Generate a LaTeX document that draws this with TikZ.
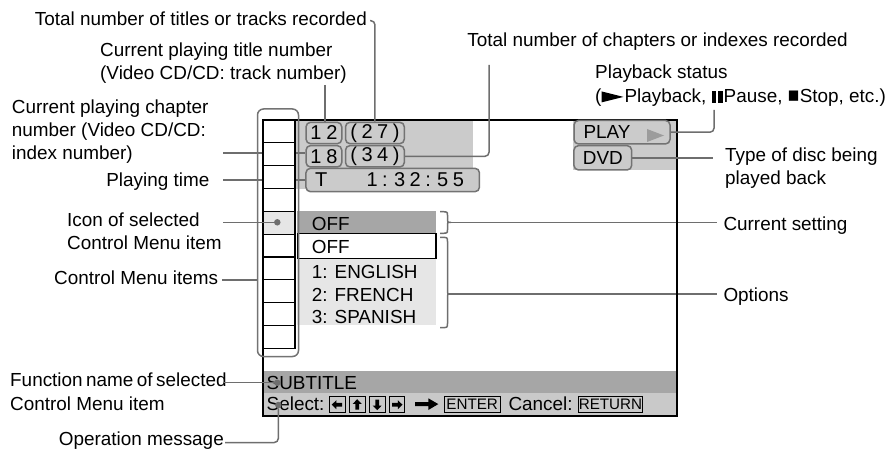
\documentclass[tikz,border=0pt]{standalone}
\usepackage{graphicx}
\usepackage{fontspec}
\setmainfont{Liberation Sans}
\pgfdeclarelayer{bgfill}
\pgfdeclarelayer{under}
\pgfsetlayers{bgfill,under,main}
\definecolor{hdrgray}{HTML}{CBCBCB}
\definecolor{bargray}{HTML}{A6A6A6}
\definecolor{lightg}{HTML}{E6E6E6}
\definecolor{selgray}{HTML}{C9C9C9}
\definecolor{conngray}{HTML}{6E6E6E}
\definecolor{boxedge}{HTML}{737373}
\definecolor{trigray}{HTML}{9C9C9C}
\newcommand\pausebars{\rule{4.5pt}{12pt}\hspace{2pt}\rule{4.5pt}{12pt}\hspace{1pt}}
\newcommand\playptr{\tikz[baseline=0pt,x=1pt,y=1pt]\fill (0,0.3) -- (22,5.8) -- (0,11.3) -- cycle;\hspace{1pt}}
\newcommand\stopsq{\resizebox{11.5pt}{11.5pt}{■}\hspace{0.5pt}}
\begin{document}
\begin{tikzpicture}[x=1pt,y=-1pt,
  lbl/.style={inner sep=0pt, font=\fontsize{18.9}{23}\selectfont},
  conn/.style={draw=conngray, line width=1.5pt, rounded corners=4pt},
  hbox/.style={draw=boxedge, line width=1.5pt, rounded corners=4.5pt, fill=hdrgray, inner sep=0pt},
  hnum/.style={hbox, font=\fontsize{20}{24}\selectfont},
  kbox/.style={draw=black, line width=0.9pt, inner sep=0pt, minimum width=15.7pt, minimum height=16pt},
  keytxt/.style={kbox, font=\fontsize{15.2}{17}\selectfont},
  dotmark/.style={circle, fill=conngray, inner sep=0pt, minimum size=6.5pt},
  cell/.style={draw=black, line width=1.2pt, fill=white},
  bracepath/.style={draw=conngray, line width=1.5pt},
  keyarrow/.style={fill=black}
]
\useasboundingbox (0,0) rectangle (896,449);

% ---------- background fills ----------
\begin{pgfonlayer}{bgfill}
\fill[hdrgray] (296,120) rectangle (473.3,189);
\fill[hdrgray] (573,120) rectangle (677,170);
\fill[bargray] (297,211) rectangle (436,233.3);
\fill[white] (297,233.3) rectangle (436,258.3);
\fill[lightg] (297,258.3) rectangle (436,325);
\fill[bargray] (263,371) rectangle (677,393.3);
\fill[selgray] (263,393.3) rectangle (677,416);
\end{pgfonlayer}

% ---------- menu column ----------
\foreach \i in {0,...,9} {
  \draw[cell] (263,{120+\i*22.83}) rectangle (295,{120+(\i+1)*22.83});
}
\draw[cell, fill=lightg] (263,211.32) rectangle (295,234.15);

% ---------- screen frame ----------
\draw[line width=2.2pt] (263,120) rectangle (677,416);
\draw[line width=1.2pt] (297.5,233.3) rectangle (436,258.3);

% column outline
\node[draw=boxedge, line width=1.5pt, rounded corners=6pt, minimum width=41pt, minimum height=247.5pt, inner sep=0pt] (colout) at (278,232.75) {};

% ---------- header boxes ----------
\node[hnum, minimum width=35.7pt, minimum height=21.4pt] (b12) at (323.9,133) {{\spaceskip=5pt 1 2}};
\node[hnum, minimum width=58.8pt, minimum height=21.4pt] (b27) at (374.9,133) {{\spaceskip=4.5pt ( 2 7 )}};
\node[hnum, minimum width=35.7pt, minimum height=21.4pt] (b18) at (323.9,156.3) {{\spaceskip=5pt 1 8}};
\node[hnum, minimum width=58.8pt, minimum height=21.4pt] (b34) at (374.9,156.3) {{\spaceskip=4.5pt ( 3 4 )}};
\node[hnum, minimum width=173.5pt, minimum height=23.4pt] (bT) at (392.7,180) {T\hspace{39.3pt}{\spaceskip=4.5pt 1 : 3 2 : 5 5}\rule{6.4pt}{0pt}};
\node[hbox, font=\fontsize{18.9}{23}\selectfont, minimum width=96pt, minimum height=23.5pt] (play) at (622,132.2) {PLAY\rule{30pt}{0pt}};
\fill[trigray] (647,129) -- (664,135.5) -- (647,142) -- cycle;
\node[hbox, font=\fontsize{18.9}{23}\selectfont, minimum width=57.7pt, minimum height=24.3pt] (dvd) at (602.8,157.8) {DVD};

% ---------- menu texts ----------
\node[lbl, anchor=west] (mCur) at (311.7,223.7) {OFF};
\node[lbl, anchor=west] (mOff) at (311.7,247.2) {OFF};
\node[lbl, anchor=west, align=left, font=\fontsize{18.9}{22.5}\selectfont] (mOpts) at (311.7,294.8) {1: ENGLISH\\2: FRENCH\\3: SPANISH};

% ---------- bottom bars ----------
\node[lbl, anchor=west] (func) at (266.5,382.5) {SUBTITLE};
\node[lbl, anchor=west] (sel) at (266.5,404.2) {Select:};
\node[kbox] (kL) at (337.2,404.7) {};
\node[kbox] (kU) at (357.2,404.7) {};
\node[kbox] (kD) at (377.2,404.7) {};
\node[kbox] (kR) at (397,404.7) {};
\foreach \k/\a in {kL/0,kU/-90,kD/90,kR/180} {
  \fill[keyarrow, shift={(\k.center)}, rotate=\a] (-5.5,0) -- (-0.8,-4.5) -- (-0.8,-1.8) -- (5,-1.8) -- (5,1.8) -- (-0.8,1.8) -- (-0.8,4.5) -- cycle;
}
\fill (415,402) -- (428.3,402) -- (428.3,398.3) -- (438.3,404.1) -- (428.3,410) -- (428.3,406) -- (415,406) -- cycle;
\node[keytxt, minimum width=55.7pt] (enter) at (472.2,404.7) {ENTER};
\node[lbl, anchor=west] (cancel) at (508.3,404.2) {Cancel:};
\node[keytxt, minimum width=64.4pt] (ret) at (610.5,404.7) {RETURN};

% ---------- labels ----------
\node[lbl, anchor=east] (tTotTitles) at (367,18.3) {Total number of titles or tracks recorded};
\node[lbl, anchor=west, align=left] (tCurTitle) at (100,63.3) {Current playing title number\\(Video CD/CD: track number)};
\node[lbl, anchor=east] (tTotChap) at (848,41.2) {Total number of chapters or indexes recorded};
\node[lbl, anchor=west, align=left] (tPbStatus) at (595,85.5) {Playback status\\[1.6pt](\playptr Playback, \pausebars Pause, \stopsq Stop, etc.)};
\node[lbl, anchor=west, align=left] (tDiscType) at (725,168.4) {Type of disc being\\played back};
\node[lbl, anchor=west, align=left] (tCurChap) at (11.7,131.2) {Current playing chapter\\number (Video CD/CD:\\index number)};
\node[lbl, anchor=east] (tPlayTime) at (209.5,181.2) {Playing time};
\node[lbl, anchor=west, align=left] (tIcon) at (67,231.5) {Icon of selected\\Control Menu item};
\node[lbl, anchor=east] (tItems) at (218.3,278) {Control Menu items};
\node[lbl, anchor=west, align=left] (tFunc) at (10,391.7) {{\spaceskip=3.5pt Function name of selected}\\[1pt]Control Menu item};
\node[lbl, anchor=east] (tOpMsg) at (224,441) {Operation message};
\node[lbl, anchor=west] (tCurSet) at (723.3,225.7) {Current setting};
\node[lbl, anchor=west] (tOptions) at (723.3,296.5) {Options};

% ---------- dots ----------
\node[dotmark] (dot1) at (277.3,222.3) {};
\node[dotmark] (dot2) at (277.3,382.7) {};
\node[dotmark] (dot3) at (278.3,405) {};

% ---------- braces ----------
\draw[bracepath] (440,211.7) .. controls (447.5,211.7) .. (447.5,215.2) -- (447.5,218.8) .. controls (447.5,222.3) .. (451,222.3) .. controls (447.5,222.3) .. (447.5,225.8) -- (447.5,229.8) .. controls (447.5,233.3) .. (440,233.3);
\draw[bracepath] (440,237.3) .. controls (447.5,237.3) .. (447.5,241.5) -- (447.5,290.5) .. controls (447.5,294) .. (451,294) .. controls (447.5,294) .. (447.5,297.5) -- (447.5,323.5) .. controls (447.5,327.7) .. (440,327.7);
\coordinate (br1) at (451,222.3);
\coordinate (br2) at (451,294);

% ---------- connectors ----------
\coordinate (c2) at (325,85);
\coordinate (c3) at (489,65);
\coordinate (c4) at (714,110);
\coordinate (c6) at (223,153);
\coordinate (c8) at (223,222.3);
\coordinate (c9) at (222,280);
\coordinate (c10) at (223,382.7);
\coordinate (c11) at (225,442.5);

\draw[conn] ([xshift=3pt,yshift=-2.4pt]tTotTitles.east) -| (b27.north);
\draw[conn] (c2) -- (c2 |- b12.north);
\draw[conn] (c3) |- (b34.east);
\draw[conn] (c4) |- (play.east);
\draw[conn] (dvd.east) -- ([xshift=-12pt]tDiscType.west |- dvd.east);
\draw[conn] (c8) -- (dot1);
\draw[conn] (c9) -- (c9 -| colout.west);
\draw[conn] (c10) -- (dot2);
\draw[conn] (c11) -| (dot3);
\draw[conn] (br1) -- ([xshift=-6pt]tCurSet.west |- br1);
\draw[conn] (br2) -- ([xshift=-6pt]tOptions.west |- br2);
\draw[line width=2.2pt] (677,200) -- (677,330);

\begin{pgfonlayer}{under}
\draw[conn] (c6) -- (c6 -| b18.west);
\draw[conn] ([xshift=13.5pt]tPlayTime.east |- bT.west) -- (bT.west);
\end{pgfonlayer}
\end{tikzpicture}
\end{document}
